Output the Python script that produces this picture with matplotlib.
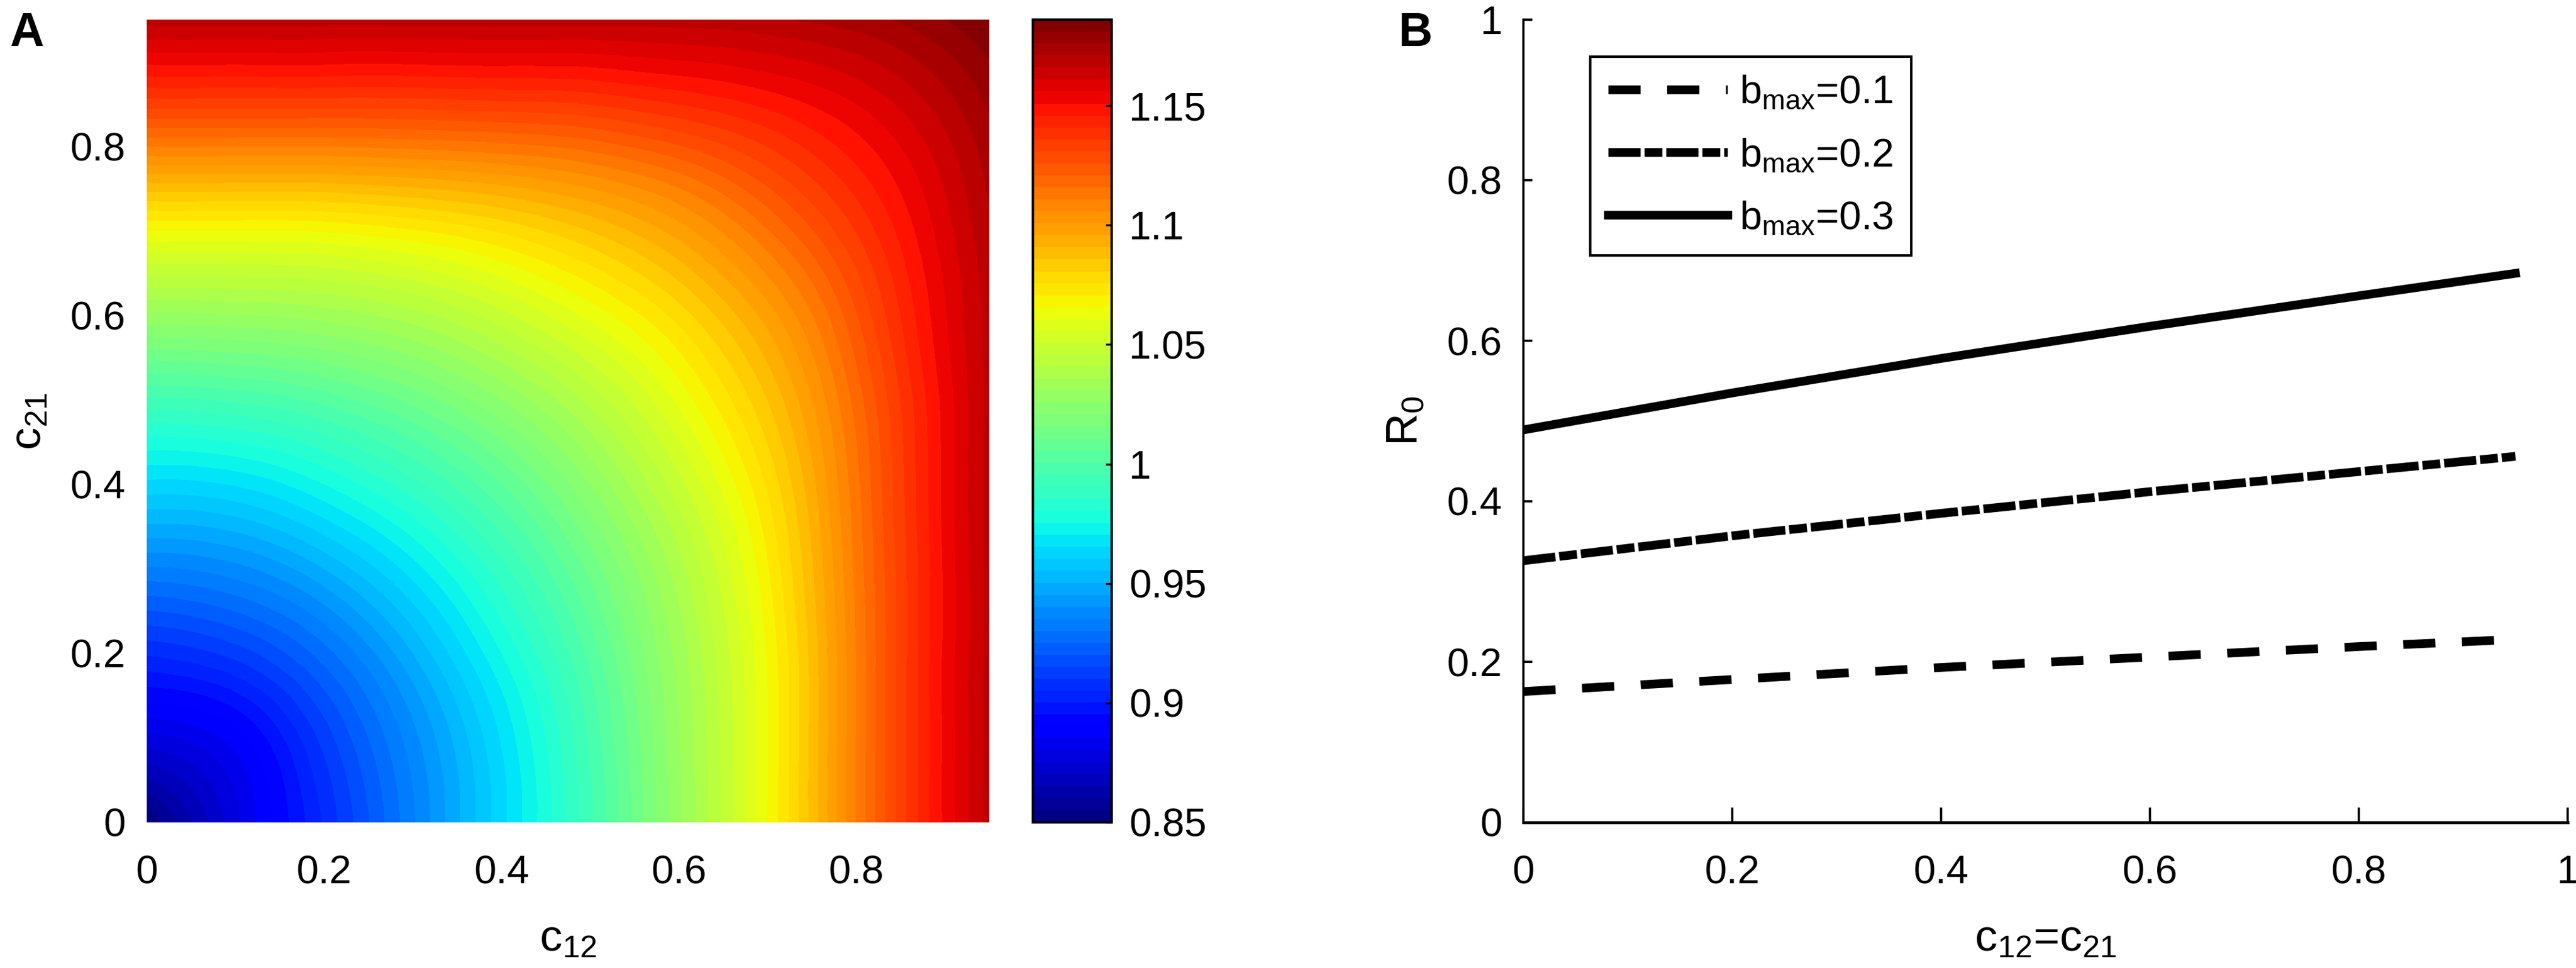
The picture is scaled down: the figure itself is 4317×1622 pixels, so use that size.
import numpy as np
import matplotlib
matplotlib.use("Agg")
import matplotlib.pyplot as plt
import matplotlib.tri as mtri

plt.rcParams['font.family'] = ['Liberation Sans', 'DejaVu Sans']
plt.rcParams['mathtext.fontset'] = 'custom'
plt.rcParams['mathtext.rm'] = 'Liberation Sans'
plt.rcParams['mathtext.it'] = 'Liberation Sans'

#%% data

# panel A: R0 on a grid of c12 (columns) and c21 (rows)
c_grid = [0, 0.095, 0.19, 0.285, 0.38, 0.475, 0.57, 0.665, 0.76, 0.855, 0.95]
r0_grid = [
    [0.850, 0.877, 0.903, 0.930, 0.958, 0.986, 1.019, 1.052, 1.092, 1.135, 1.168],
    [0.877, 0.886, 0.909, 0.934, 0.960, 0.988, 1.020, 1.052, 1.092, 1.135, 1.168],
    [0.903, 0.909, 0.924, 0.945, 0.969, 0.994, 1.023, 1.053, 1.092, 1.135, 1.168],
    [0.930, 0.934, 0.945, 0.962, 0.982, 1.004, 1.029, 1.057, 1.094, 1.135, 1.168],
    [0.958, 0.960, 0.969, 0.982, 0.998, 1.017, 1.039, 1.064, 1.097, 1.136, 1.168],
    [0.986, 0.988, 0.994, 1.004, 1.017, 1.033, 1.052, 1.074, 1.102, 1.137, 1.168],
    [1.019, 1.020, 1.023, 1.029, 1.039, 1.052, 1.067, 1.086, 1.110, 1.141, 1.168],
    [1.052, 1.052, 1.053, 1.057, 1.064, 1.074, 1.086, 1.102, 1.122, 1.146, 1.169],
    [1.092, 1.092, 1.092, 1.094, 1.097, 1.102, 1.110, 1.122, 1.137, 1.153, 1.172],
    [1.135, 1.135, 1.135, 1.135, 1.136, 1.137, 1.141, 1.146, 1.153, 1.163, 1.177],
    [1.168, 1.168, 1.168, 1.168, 1.168, 1.168, 1.168, 1.169, 1.172, 1.177, 1.186],
]
r0_min, r0_max = 0.85, 1.186
cbar_ticks = [0.85, 0.9, 0.95, 1.0, 1.05, 1.1, 1.15]
cbar_labels = ['0.85', '0.9', '0.95', '1', '1.05', '1.1', '1.15']
a_ticks = [0, 0.2, 0.4, 0.6, 0.8]
a_labels = ['0', '0.2', '0.4', '0.6', '0.8']

# panel B: R0 along c12=c21
c_line = [0, 0.2, 0.4, 0.6, 0.8, 0.95]
r0_b01 = [0.163, 0.178, 0.193, 0.206, 0.219, 0.228]
r0_b02 = [0.326, 0.357, 0.385, 0.412, 0.437, 0.456]
r0_b03 = [0.489, 0.535, 0.578, 0.618, 0.656, 0.684]
b_labels = [r'$\mathregular{b_{max}}$=0.1', r'$\mathregular{b_{max}}$=0.2',
            r'$\mathregular{b_{max}}$=0.3']
b_ticks = [0, 0.2, 0.4, 0.6, 0.8, 1]
b_ticklabels = ['0', '0.2', '0.4', '0.6', '0.8', '1']

#%% figure
W, H = 4317, 1622
fig = plt.figure(figsize=(W / 300, H / 300), dpi=300)
bot = 1 - 1378 / H
hgt = 1345 / H
ax1 = fig.add_axes([246 / W, bot, 1412 / W, hgt])
cax = fig.add_axes([1731 / W, bot, 132 / W, hgt])
ax2 = fig.add_axes([2553 / W, bot, 1750 / W, hgt])

# panel A
X, Y = np.meshgrid(c_grid, c_grid)
tri = mtri.Triangulation(X.ravel(), Y.ravel())
refiner = mtri.UniformTriRefiner(tri)
tri_f, z_f = refiner.refine_field(np.array(r0_grid).ravel(), subdiv=4)
z_f = np.clip(z_f, r0_min, r0_max)
levels = np.linspace(r0_min, r0_max, 68)
cs = ax1.tricontourf(tri_f, z_f, levels=levels, cmap='jet',
                     vmin=r0_min, vmax=r0_max)
ax1.set_xlim(0, 0.95)
ax1.set_ylim(0, 0.95)
ax1.set_xticks(a_ticks)
ax1.set_xticklabels(a_labels)
ax1.set_yticks(a_ticks)
ax1.set_yticklabels(a_labels)
ax1.tick_params(length=0, labelsize=16, pad=8.5)
ax1.tick_params(axis='x', pad=13)
for s in ax1.spines.values():
    s.set_visible(False)
ax1.set_xlabel(r'$\mathregular{c_{12}}$', fontsize=18)
ax1.xaxis.set_label_coords(0.5, -0.12)
ax1.xaxis.label.set_va('top')
ax1.set_ylabel(r'$\mathregular{c_{21}}$', fontsize=18)
ax1.yaxis.set_label_coords(-0.115, 0.5)

cb = fig.colorbar(cs, cax=cax, ticks=cbar_ticks)
cb.ax.set_yticklabels(cbar_labels)
cb.ax.tick_params(direction='in', length=2.5, width=0.8, labelsize=16, pad=7)
cb.outline.set_linewidth(1.0)
cb.outline.set_edgecolor('black')

# panel B
lw = 3.5
ax2.plot(c_line, r0_b01, color='black', lw=lw, ls=(0, (3.7, 3.05)),
         label=b_labels[0])
ax2.plot(c_line, r0_b02, color='black', lw=lw, ls=(0, (3.7, 0.45, 2.05, 0.45)),
         label=b_labels[1])
ax2.plot(c_line, r0_b03, color='black', lw=lw, ls='-', label=b_labels[2])
ax2.set_xlim(0, 1)
ax2.set_ylim(0, 1)
ax2.set_xticks(b_ticks)
ax2.set_xticklabels(b_ticklabels)
ax2.set_yticks(b_ticks)
ax2.set_yticklabels(b_ticklabels)
ax2.spines['top'].set_visible(False)
ax2.spines['right'].set_visible(False)
ax2.spines['left'].set_linewidth(0.9)
ax2.spines['bottom'].set_linewidth(1.2)
ax2.tick_params(direction='in', labelsize=16, width=0.9)
ax2.tick_params(axis='x', length=6, pad=13)
ax2.tick_params(axis='y', length=3.5, pad=8.5)
ax2.set_xlabel(r'$\mathregular{c_{12}}$=$\mathregular{c_{21}}$', fontsize=18)
ax2.xaxis.set_label_coords(0.5, -0.12)
ax2.xaxis.label.set_va('top')
ax2.set_ylabel(r'$\mathregular{R_{0}}$', fontsize=18)
ax2.yaxis.set_label_coords(-0.093, 0.5)

leg = ax2.legend(loc='upper left', bbox_to_anchor=(0.064, 0.954),
                 borderaxespad=0, fontsize=16, handlelength=3.0,
                 handletextpad=0.3, labelspacing=0.65, borderpad=0.45,
                 fancybox=False, framealpha=1, edgecolor='black')
leg.get_frame().set_linewidth(1.0)

fig.text(16 / W, 1 - 77 / H, 'A', fontsize=19, fontweight='bold', va='baseline')
fig.text(2344 / W, 1 - 77 / H, 'B', fontsize=19, fontweight='bold', va='baseline')

fig.savefig('out.png', dpi=300)
